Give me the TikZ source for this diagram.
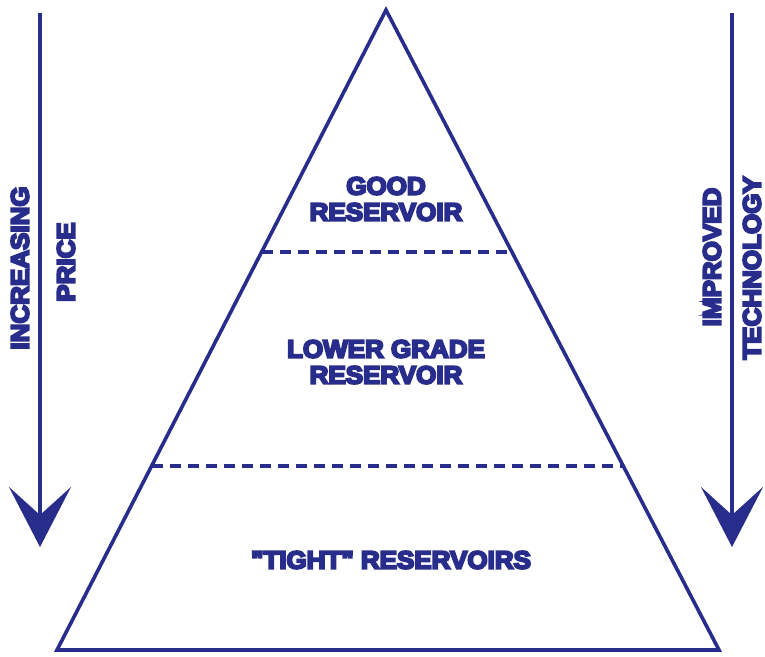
\documentclass[tikz,border=0pt]{standalone}
\usepackage{fontspec}
\newfontfamily\heavyfont{Liberation Sans}[UprightFont={* Bold}, FakeBold=8, FakeStretch=1.04]
\usetikzlibrary{arrows.meta,
	calc,
	positioning}
\definecolor{resblue}{RGB}{40,44,138}
\tikzstyle{lbl}=[text=resblue, font=\fontsize{25}{26}\heavyfont, align=center, inner sep=0]
\tikzstyle{edge}=[draw=resblue, line width=3.6pt, line join=miter]
\tikzstyle{lvl}=[draw=resblue, line width=3.6pt, dash pattern=on 11pt off 7pt]
\tikzstyle{trend}=[draw=resblue, line width=3.4pt, -{Stealth[length=60pt, width=62pt, inset=28pt]}]

\begin{document}
\begin{tikzpicture}[x=1pt, y=-1pt]
            \useasboundingbox (0,0) rectangle (765,656);
            % pyramid
            \coordinate (apex) at (386,10);
            \coordinate (bl) at (57,650);
            \coordinate (br) at (719,650);
            \draw[edge] (apex) -- (bl) -- (br) -- cycle;
            % level boundaries
            \coordinate (l1a) at ($(apex)!0.378!(bl)$);
            \coordinate (l1b) at ($(apex)!0.378!(br)$);
            \coordinate (l2a) at ($(apex)!0.7125!(bl)$);
            \coordinate (l2b) at ($(apex)!0.7125!(br)$);
            \draw[lvl] (l1a) -- (l1b);
            \draw[lvl] (l2a) -- (l2b);
            \node[lbl] (good) at (386,199) {GOOD\\RESERVOIR};
            \node[lbl] (lower) at (386,362) {LOWER GRADE\\RESERVOIR};
            \node[lbl] (tight) at (391,560) {\symbol{34}TIGHT\symbol{34} RESERVOIRS};
            % side arrows
            \coordinate (p0) at (40,13);
            \coordinate (p1) at (40,547);
            \coordinate (q0) at (732,13);
            \coordinate (q1) at (732,547);
            \draw[trend] (p0) -- (p1);
            \draw[trend] (q0) -- (q1);
            \node[lbl, rotate=90] (incr) at (20,268) {INCREASING};
            \node[lbl, rotate=90] (price) at (66,262) {PRICE};
            \node[lbl, rotate=90] (impr) at (712,257) {IMPROVED};
            \node[lbl, rotate=90] (tech) at (752,268) {TECHNOLOGY};
\end{tikzpicture}
\end{document}
